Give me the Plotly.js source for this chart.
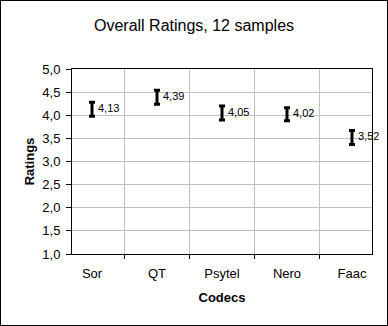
<!DOCTYPE html>
<html>
<head>
<meta charset="utf-8">
<script src="https://cdn.plot.ly/plotly-3.0.1.min.js"></script>
<style>
html,body{margin:0;padding:0;background:#fff;}
#chart{position:absolute;left:0;top:0;width:388px;height:326px;border:1px solid #000;box-sizing:border-box;}
</style>
</head>
<body>
<div id="chart"></div>
<script>
const codecs = ["Sor", "QT", "Psytel", "Nero", "Faac"];
const ratings = [4.13, 4.39, 4.05, 4.02, 3.52];
const errors = [0.15, 0.15, 0.15, 0.14, 0.15];
const yTicks = [1.0, 1.5, 2.0, 2.5, 3.0, 3.5, 4.0, 4.5, 5.0];

const labels = ratings.map(v => v.toFixed(2).replace('.', ','));
const FONT = 'Liberation Sans, Arial, sans-serif';

const trace = {
  type: 'scatter',
  mode: 'markers+text',
  x: codecs,
  y: ratings,
  text: labels,
  textposition: 'middle right',
  textfont: {family: FONT, size: 11, color: '#000'},
  marker: {size: 8, color: 'rgba(0,0,0,0)'},
  error_y: {type: 'data', array: errors, visible: true, color: '#000', thickness: 3, width: 3},
  hoverinfo: 'skip',
  cliponaxis: false
};

const layout = {
  width: 386,
  height: 324,
  margin: {l: 71, r: 15, t: 68, b: 71},
  paper_bgcolor: '#fff',
  plot_bgcolor: '#fff',
  separators: ',.',
  showlegend: false,
  font: {family: FONT, color: '#000', size: 13},
  title: {
    text: 'Overall Ratings, 12 samples',
    font: {family: FONT, size: 16, color: '#000'},
    x: 0.5, xref: 'container', xanchor: 'center',
    y: 0.926, yref: 'container', yanchor: 'middle'
  },
  xaxis: {
    type: 'category',
    tickson: 'boundaries',
    showline: true, linecolor: '#000', linewidth: 1, mirror: true,
    showgrid: true, gridcolor: '#c0c0c0', gridwidth: 1,
    ticks: 'outside', ticklen: 4, tickcolor: '#000', tickwidth: 1,
    ticklabelstandoff: 7,
    tickfont: {family: FONT, size: 13, color: '#000'},
    zeroline: false,
    title: {text: '<b>Codecs</b>', font: {family: FONT, size: 13, color: '#000'}, standoff: 13}
  },
  yaxis: {
    range: [1, 5],
    tickvals: yTicks,
    tickformat: '.1f',
    showline: true, linecolor: '#000', linewidth: 1, mirror: true,
    showgrid: true, gridcolor: '#c0c0c0', gridwidth: 1,
    ticks: 'outside', ticklen: 5, tickcolor: '#000', tickwidth: 1,
    ticklabelstandoff: 3,
    tickfont: {family: FONT, size: 13, color: '#000'},
    zeroline: false,
    title: {text: '<b>Ratings</b>', font: {family: FONT, size: 13, color: '#000'}, standoff: 4}
  }
};

Plotly.newPlot('chart', [trace], layout, {staticPlot: true, displayModeBar: false});
</script>
</body>
</html>
